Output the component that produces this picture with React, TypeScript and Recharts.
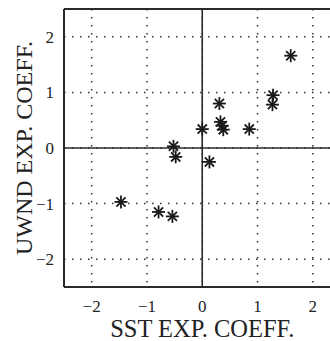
import {CartesianGrid, ReferenceLine, Scatter, ScatterChart, XAxis, YAxis} from "recharts";

const sstCoeff = [1.6, 1.28, 1.27, 0.31, 0.33, 0.36, 0.38, 0.0, 0.85, -0.52, -0.48, 0.13, -1.47, -0.79, -0.54];
const uwndCoeff = [1.66, 0.95, 0.78, 0.8, 0.47, 0.4, 0.33, 0.34, 0.34, 0.03, -0.16, -0.25, -0.97, -1.15, -1.23];
const ticks = [-2, -1, 0, 1, 2];

const points = sstCoeff.map((x, i) => ({x, y: uwndCoeff[i]}));

const font = "Liberation Serif";
const ink = "#2a2a2a";

const fmt = (v: number) => (v < 0 ? "\u2212" + Math.abs(v) : String(v));

// asterisk marker like the matlab "*" symbol
const Asterisk = (props: any) => {
    const {cx, cy} = props;
    const r = 6.5;
    const d = r * 0.7071;
    return (
        <g stroke="#1a1a1a" strokeWidth={1.8}>
            <line x1={cx} y1={cy - r} x2={cx} y2={cy + r}/>
            <line x1={cx - r} y1={cy} x2={cx + r} y2={cy}/>
            <line x1={cx - d} y1={cy - d} x2={cx + d} y2={cy + d}/>
            <line x1={cx - d} y1={cy + d} x2={cx + d} y2={cy - d}/>
        </g>
    );
};

const App = () => {
    return (
        <div style={{position: "absolute", left: 0, top: 0, width: 330, height: 341, overflow: "hidden", background: "#fff"}}>
            <ScatterChart
                width={350}
                height={341}
                margin={{top: 9, right: 9.5, left: 0, bottom: 0}}
            >
                <CartesianGrid stroke="#333" strokeWidth={1.5} strokeDasharray="1.5 6.5"/>
                <XAxis
                    type="number"
                    dataKey="x"
                    domain={[-2.5, 2.5]}
                    ticks={ticks}
                    height={54}
                    tickLine={false}
                    tickSize={0}
                    tickMargin={13}
                    axisLine={{stroke: ink, strokeWidth: 2}}
                    tick={{fill: "#222", fontSize: 17, fontFamily: font}}
                    tickFormatter={fmt}
                    label={{value: "SST EXP. COEFF.", position: "insideBottom", offset: 4, fill: "#222", fontSize: 24.5, fontFamily: font}}
                />
                <YAxis
                    type="number"
                    dataKey="y"
                    domain={[-2.5, 2.5]}
                    ticks={ticks}
                    width={64}
                    tickLine={false}
                    tickSize={0}
                    tickMargin={10}
                    axisLine={{stroke: ink, strokeWidth: 2}}
                    tick={{fill: "#222", fontSize: 17, fontFamily: font}}
                    tickFormatter={fmt}
                    label={{value: "UWND EXP. COEFF.", angle: -90, position: "center", dx: -9, fill: "#222", fontSize: 24, fontFamily: font}}
                />
                <ReferenceLine y={2.5} stroke={ink} strokeWidth={2}/>
                <ReferenceLine x={0} stroke={ink} strokeWidth={1.6}/>
                <ReferenceLine y={0} stroke={ink} strokeWidth={1.6}/>
                <Scatter data={points} shape={<Asterisk/>} isAnimationActive={false}/>
            </ScatterChart>
        </div>
    );
};

export default App;
